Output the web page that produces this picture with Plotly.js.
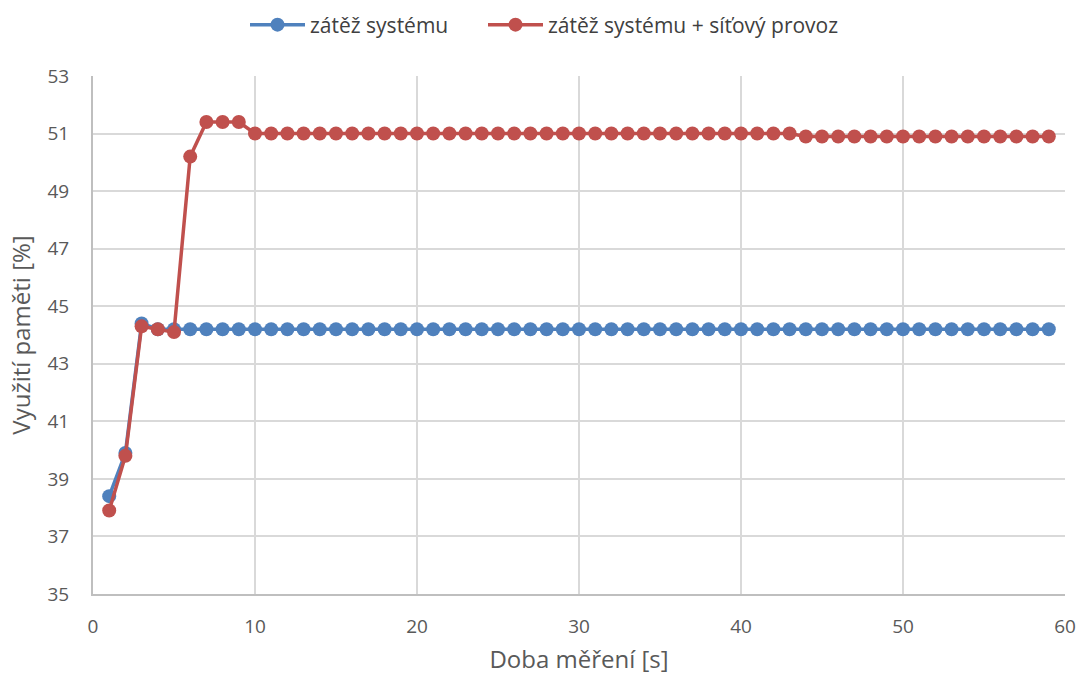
<!DOCTYPE html>
<html>
<head>
<meta charset="utf-8">
<script src="https://cdn.plot.ly/plotly-3.0.1.min.js"></script>
<style>html,body{margin:0;padding:0;background:#fff;}#chart{width:1079px;height:675px;}</style>
</head>
<body>
<div id="chart"></div>
<script>
const seconds = Array.from({length: 59}, (_, i) => i + 1);
const seriesNames = ["zátěž systému", "zátěž systému + síťový provoz"];
const systemLoad = [38.4, 39.9, 44.4].concat(new Array(56).fill(44.2));
const systemNetLoad = [37.9, 39.8, 44.3, 44.2, 44.1, 50.2, 51.4, 51.4, 51.4]
  .concat(new Array(34).fill(51.0))
  .concat(new Array(16).fill(50.9));
const yTicks = [35, 37, 39, 41, 43, 45, 47, 49, 51, 53];
const xTicks = [0, 10, 20, 30, 40, 50, 60];

const font = "'Open Sans', sans-serif";
const traces = [
  {x: seconds, y: systemLoad, name: seriesNames[0], mode: "lines+markers", legend: "legend",
   line: {color: "#4f81bd", width: 3.5}, marker: {color: "#4f81bd", size: 14}},
  {x: seconds, y: systemNetLoad, name: seriesNames[1], mode: "lines+markers", legend: "legend2",
   line: {color: "#c0504d", width: 3.5}, marker: {color: "#c0504d", size: 14}}
];
const legendBase = {orientation: "h", xanchor: "left", xref: "container",
  y: 0.963, yanchor: "middle", yref: "container", bgcolor: "rgba(0,0,0,0)",
  itemwidth: 55, font: {size: 21, color: "#404040"}};
const layout = {
  width: 1079, height: 675,
  margin: {l: 93, r: 14, t: 76, b: 81},
  paper_bgcolor: "#fff", plot_bgcolor: "#fff",
  font: {family: font, color: "#595959", size: 18},
  showlegend: true,
  legend: Object.assign({}, legendBase, {x: 245 / 1079}),
  legend2: Object.assign({}, legendBase, {x: 483 / 1079}),
  xaxis: {range: [0, 60], tickvals: xTicks, showgrid: true, gridcolor: "#d9d9d9", gridwidth: 2,
          zeroline: false, showline: true, linecolor: "#bfbfbf", linewidth: 2,
          ticks: "", tickfont: {size: 19, color: "#595959"}, ticklabelstandoff: 14, automargin: false,
          title: {text: "Doba měření [s]", font: {size: 24, color: "#595959"}, standoff: 14}},
  yaxis: {range: [35, 53], tickvals: yTicks, showgrid: true, gridcolor: "#d9d9d9", gridwidth: 2,
          zeroline: false, showline: true, linecolor: "#bfbfbf", linewidth: 2,
          ticks: "", tickfont: {size: 19, color: "#595959"}, ticklabelstandoff: 18, automargin: false,
          title: {text: "Využití paměti [%]", font: {size: 24, color: "#595959"}, standoff: 10}}
};
Plotly.newPlot("chart", traces, layout, {staticPlot: true});
</script>
</body>
</html>
